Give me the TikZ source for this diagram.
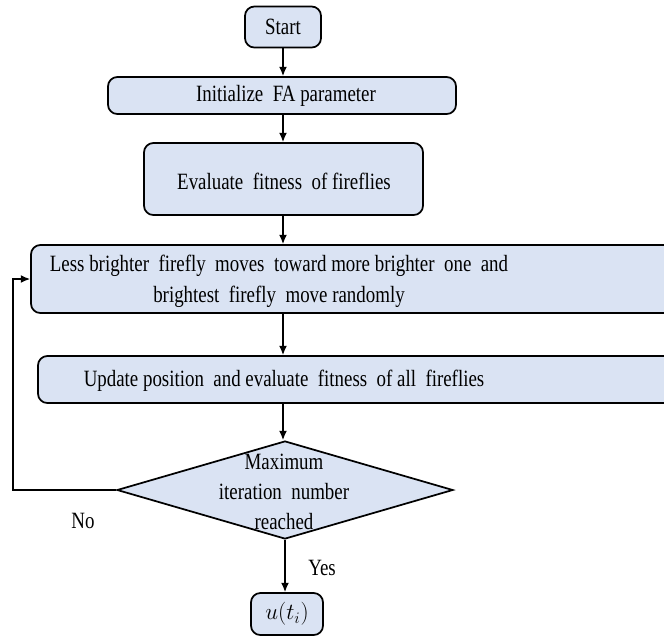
\documentclass[tikz,border=0pt]{standalone}
\usepackage{fontspec}
\setmainfont{Liberation Serif}[FakeStretch=0.81]
\usetikzlibrary{shapes.geometric,arrows.meta}
\definecolor{boxfill}{HTML}{DAE3F3}
\tikzset{
  procbox/.style={draw=black, fill=boxfill, line width=1.3pt, rounded corners=7pt, inner sep=0pt},
  decbox/.style={draw=black, fill=boxfill, line width=1.3pt, diamond, inner sep=0pt, minimum width=336*0.75pt, minimum height=98*0.75pt, aspect=3.43},
  txt/.style={font=\fontsize{17.5pt}{23.2pt}\selectfont, inner sep=0pt},
  flow/.style={line width=1.1pt, -{Latex[length=7pt,width=6pt]}},
}
\begin{document}
\begin{tikzpicture}[x=0.75pt,y=-0.75pt]
\useasboundingbox (0,0) rectangle (664,637);
\clip (0,0) rectangle (664,637);
% boxes
\node[procbox, minimum width=76*0.75pt, minimum height=41*0.75pt] (start) at (283,27) {};
\node[txt] (starttxt) at (283,27) {Start};
\node[procbox, minimum width=348*0.75pt, minimum height=37*0.75pt] (init) at (282,95.5) {};
\node[txt] (inittxt) at (286,96) {Initialize\ \ FA parameter};
\node[procbox, minimum width=279*0.75pt, minimum height=72*0.75pt] (eval) at (283.5,179) {};
\node[txt] (evaltxt) at (284,181) {Evaluate\ \ fitness\ \ of fireflies};
\node[procbox, minimum width=660*0.75pt, minimum height=68*0.75pt] (less) at (361,279) {};
\node[txt, align=center] (lesstxt) at (279,281) {Less brighter\ \ firefly\ \ moves\ \ toward more brighter\ \ one\ \ and\\ brightest\ \ firefly\ \ move randomly};
\node[procbox, minimum width=646*0.75pt, minimum height=47*0.75pt] (upd) at (361,379.5) {};
\node[txt] (updtxt) at (284,381) {Update position\ \ and evaluate\ \ fitness\ \ of all\ \ fireflies};
\node[decbox] (dec) at (285,490) {};
\node[txt, align=center, font=\fontsize{17.5pt}{22.5pt}\selectfont] (dectxt) at (284,492) {Maximum\\ iteration\ \ number\\ reached};
\node[procbox, minimum width=72*0.75pt, minimum height=42*0.75pt] (out) at (287,614) {};
\node[txt] (outtxt) at (287,614) {\fontsize{18pt}{20pt}\selectfont$u(t_i)$};
% labels
\node[txt] (nolbl) at (83,521) {No};
\node[txt] (yeslbl) at (322,568) {Yes};
% connectors
\draw[flow] (start.south) -- (init.north -| start.south);
\draw[flow] (init.south -| start.south) -- (eval.north -| start.south);
\draw[flow] (eval.south -| start.south) -- (less.north -| start.south);
\draw[flow] (less.south -| start.south) -- (upd.north -| start.south);
\draw[flow] (upd.south -| start.south) -- (dec.north -| start.south);
\draw[flow] (dec.south) -- (out.north -| dec.south);
\coordinate (lb) at (13,490);
\coordinate (lt) at (13,279);
\draw[flow] (dec.west) -- (lb) -- (lt) -- (less.west);
\end{tikzpicture}
\end{document}
